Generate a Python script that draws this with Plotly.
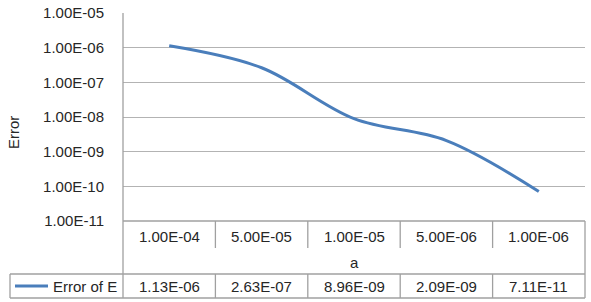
import plotly.graph_objects as go

categories = ["1.00E-04", "5.00E-05", "1.00E-05", "5.00E-06", "1.00E-06"]
series_name = "Error of E"
values = [1.13e-06, 2.63e-07, 8.96e-09, 2.09e-09, 7.11e-11]
value_labels = ["1.13E-06", "2.63E-07", "8.96E-09", "2.09E-09", "7.11E-11"]
ytick_vals = [1e-5, 1e-6, 1e-7, 1e-8, 1e-9, 1e-10, 1e-11]
ytick_text = ["1.00E-05", "1.00E-06", "1.00E-07", "1.00E-08", "1.00E-09", "1.00E-10", "1.00E-11"]
x_title = "a"
y_title = "Error"

W, H = 591, 302
LINE_COLOR = "#4a7ebb"
GRID = "#b3b3b3"
BORDER = "#a0a0a0"
TEXT = "#262626"
FONT = "Liberation Sans, Arial, sans-serif"
FS = 15

def py(p):
    return 1 - p / H

def px(p):
    return p / W

plot_left, plot_right, plot_top, plot_bottom = 123, 585, 13, 221
row_cat_bottom = 248
row_series_top, row_series_bottom = 274, 298
legend_left = 10

xs = list(range(len(categories)))

fig = go.Figure()
fig.add_trace(go.Scatter(
    x=xs, y=values, mode="lines", name=series_name,
    line=dict(color=LINE_COLOR, width=3, shape="spline", smoothing=1),
    showlegend=False,
))

fig.update_layout(
    width=W, height=H,
    margin=dict(l=0, r=0, t=0, b=0),
    paper_bgcolor="white", plot_bgcolor="white",
    font=dict(family=FONT, size=FS, color=TEXT),
    xaxis=dict(
        domain=[px(plot_left), px(plot_right)],
        range=[-0.5, len(categories) - 0.5],
        showgrid=False, showticklabels=False, zeroline=False,
        showline=False, ticks="", fixedrange=True, automargin=False,
    ),
    yaxis=dict(
        type="log",
        domain=[py(plot_bottom), py(plot_top)],
        range=[-11, -5],
        tickvals=ytick_vals, ticktext=ytick_text,
        showgrid=True, gridcolor=GRID, gridwidth=1.3,
        zeroline=False, showline=False,
        ticks="outside", ticklen=15, tickcolor="rgba(0,0,0,0)",
        tickfont=dict(family=FONT, size=FS, color=TEXT),
        fixedrange=True, automargin=False,
    ),
)

shapes = []
def hline(x0, x1, y, xref="paper"):
    shapes.append(dict(type="line", xref=xref, yref="paper", x0=x0, x1=x1,
                       y0=py(y), y1=py(y), line=dict(color=BORDER, width=1.3)))

def vline(x, y0, y1, xref="paper"):
    shapes.append(dict(type="line", xref=xref, yref="paper", x0=x, x1=x,
                       y0=py(y0), y1=py(y1), line=dict(color=BORDER, width=1.3)))

vline(px(plot_left), plot_top, row_series_bottom)
vline(px(plot_right), plot_bottom, row_series_bottom)
hline(px(plot_left), px(plot_right), plot_bottom)
hline(px(legend_left), px(plot_right), row_series_top)
hline(px(legend_left), px(plot_right), row_series_bottom)
vline(px(legend_left), row_series_top, row_series_bottom)
for i in range(len(categories) - 1):
    vline(i + 0.5, plot_bottom, row_cat_bottom, xref="x")
    vline(i + 0.5, row_series_top, row_series_bottom, xref="x")
shapes.append(dict(type="line", xref="paper", yref="paper", x0=px(15), x1=px(48),
                   y0=py(286), y1=py(286), line=dict(color=LINE_COLOR, width=3)))

def ann(x, y, text, xref="x", xanchor="center", angle=0):
    return dict(x=x, y=y, xref=xref, yref="paper", text=text, showarrow=False,
                xanchor=xanchor, yanchor="middle", textangle=angle,
                font=dict(family=FONT, size=FS, color=TEXT))

annotations = []
for i, c in enumerate(categories):
    annotations.append(ann(i, py(236), c))
for i, v in enumerate(value_labels):
    annotations.append(ann(i, py(286), v))
annotations.append(ann((len(categories) - 1) / 2, py(262), x_title))
annotations.append(ann(px(51), py(286), series_name, xref="paper", xanchor="left"))
annotations.append(ann(px(14), py(133), y_title, xref="paper", angle=-90))

fig.update_layout(shapes=shapes, annotations=annotations)
fig.write_html("out.html")
